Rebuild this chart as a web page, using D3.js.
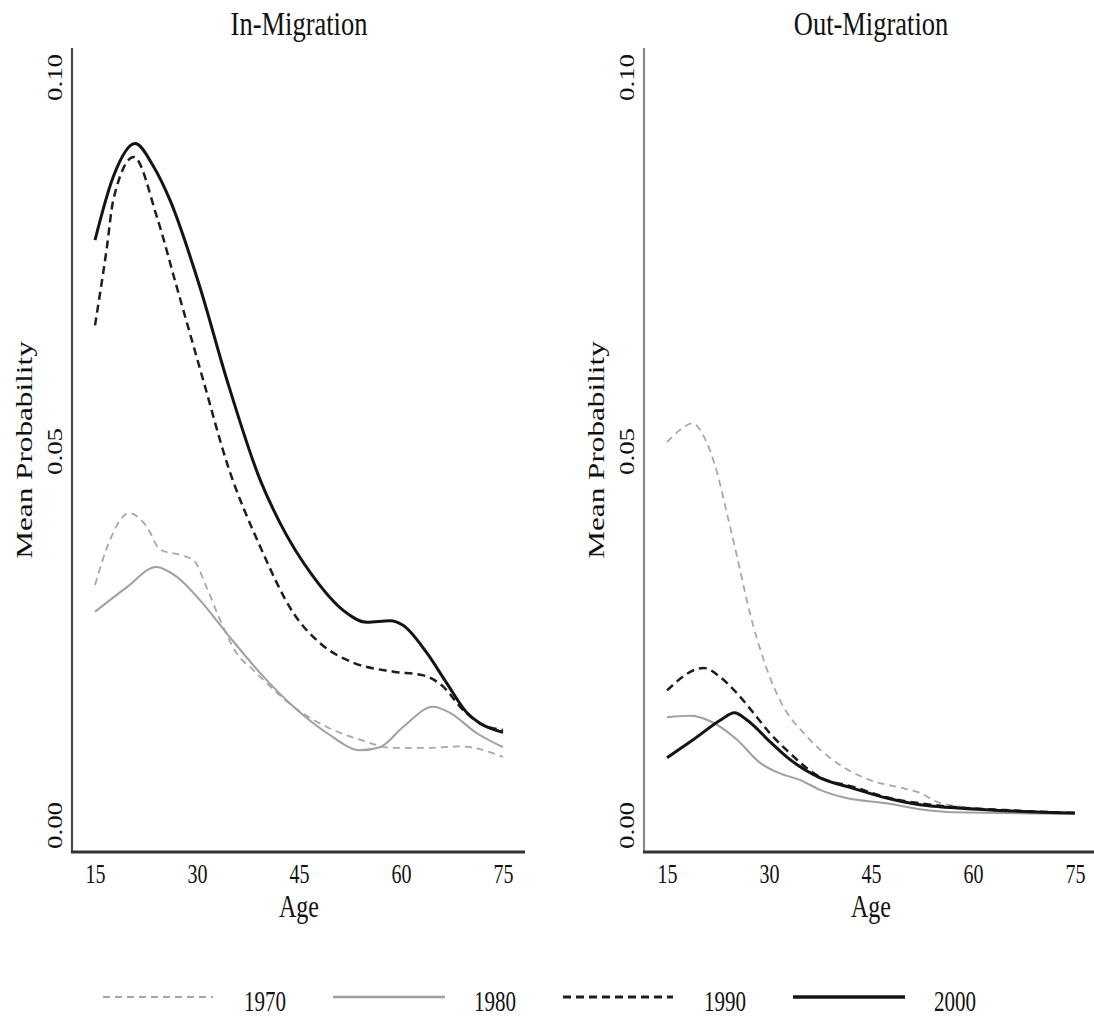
<!DOCTYPE html>
<html>
<head>
<meta charset="utf-8">
<script src="https://cdn.jsdelivr.net/npm/d3@7"></script>
<style>
  html, body { margin: 0; padding: 0; background: #fff; }
  svg { display: block; font-family: "Liberation Serif", "Times New Roman", serif; }
</style>
</head>
<body>
<svg id="chart" width="1094" height="1019"></svg>
<script>
// ---------- data ----------
const years = ["1970", "1980", "1990", "2000"];
const xTicks = [15, 30, 45, 60, 75];
const yTicks = [0.00, 0.05, 0.10];
const panelTitles = ["In-Migration", "Out-Migration"];

// [age, mean probability]
const in1970 = [[15,0.0321],[17.2,0.0381],[20,0.0417],[22.6,0.0399],[24.6,0.0368],[27.5,0.0361],[29.5,0.0354],[31.4,0.0318],[33.4,0.0274],[35.8,0.0230],[38.3,0.0207],[44.2,0.0158],[49.1,0.0131],[54,0.0114],[58.9,0.0103],[63.8,0.0103],[68.7,0.0105],[75,0.0091]];
const in1980 = [[15,0.0285],[19.7,0.0318],[24,0.0345],[27,0.0332],[30.4,0.0301],[34.4,0.0256],[39.3,0.0203],[44.2,0.0158],[49.1,0.0123],[54,0.0100],[56.9,0.0104],[60.3,0.0131],[64.7,0.0158],[67.2,0.0150],[71.1,0.0123],[75,0.0104]];
const in1990 = [[15,0.0668],[16.7,0.0769],[17.7,0.0836],[20.7,0.0893],[24.1,0.0813],[27,0.0720],[31,0.0592],[34.4,0.0484],[39.3,0.0372],[44.2,0.0283],[48.1,0.0243],[53,0.0217],[58.9,0.0205],[63.3,0.0200],[66.2,0.0185],[69.1,0.0154],[71.6,0.0136],[75,0.0127]];
const in2000 = [[15,0.0782],[17.7,0.0867],[20.9,0.0911],[23.5,0.0882],[26,0.0836],[30.4,0.0720],[34.4,0.0595],[39.3,0.0461],[42.2,0.0404],[47.1,0.0332],[51.5,0.0287],[55,0.0271],[58.4,0.0273],[60.3,0.0267],[63.8,0.0230],[66.7,0.0190],[69.7,0.0150],[71.6,0.0136],[75,0.0124]];

const out1970 = [[15,0.0512],[16.9,0.0528],[18.7,0.0537],[20.9,0.0510],[22.4,0.0470],[23.8,0.0417],[25.3,0.0359],[27.2,0.0283],[29.2,0.0221],[31.6,0.0167],[35.6,0.0118],[40,0.0083],[44.9,0.0060],[49.8,0.0049],[52.2,0.0043],[54.7,0.0031],[59.6,0.0023],[66.9,0.0017],[75,0.0016]];
const out1980 = [[15,0.0144],[18.4,0.0146],[21.3,0.0139],[25.3,0.0114],[28.7,0.0083],[31.6,0.0069],[34.6,0.0060],[37.5,0.0047],[41.4,0.0036],[47.3,0.0029],[52.2,0.0021],[57.2,0.0017],[75,0.0015]];
const out1990 = [[15,0.0180],[20.4,0.0210],[22.8,0.0198],[25.3,0.0176],[27.7,0.0150],[30.1,0.0123],[32.6,0.0100],[37.5,0.0064],[42.4,0.0051],[47.3,0.0037],[52.2,0.0029],[57.2,0.0024],[64.6,0.0020],[75,0.0016]];
const out2000 = [[15,0.0090],[19,0.0115],[23,0.0141],[24.9,0.0150],[26.8,0.0140],[30.3,0.0110],[32.6,0.0091],[37.5,0.0063],[42.4,0.0049],[47.3,0.0036],[52.2,0.0027],[57.2,0.0023],[75,0.0016]];

const panelSeries = [[in1970, in1980, in1990, in2000], [out1970, out1980, out1990, out2000]];

// ---------- styles ----------
const seriesStyle = [
  { stroke: "#a8a8a8", width: 1.8, dash: "7,5" },
  { stroke: "#a0a0a0", width: 2.0, dash: null },
  { stroke: "#1e1e1e", width: 2.5, dash: "8,5" },
  { stroke: "#141414", width: 3.0, dash: null }
];
const STRETCH = 1.35;

const svg = d3.select("#chart");
svg.append("rect").attr("width", 1094).attr("height", 1019).attr("fill", "#fff");

const panels = [
  { axisX: 72, xr: [95, 503], axisEnd: 525, yAxisColor: "#4a4a4a" },
  { axisX: 644, xr: [667, 1075], axisEnd: 1097, yAxisColor: "#8a8a8a" }
];
const yRange = [825, 77];
const axisTop = 48, axisBottom = 852;

panels.forEach((p, i) => {
  const x = d3.scaleLinear().domain([15, 75]).range(p.xr);
  const y = d3.scaleLinear().domain([0, 0.1]).range(yRange);
  const g = svg.append("g");

  // axis lines
  g.append("line").attr("x1", p.axisX).attr("x2", p.axisX)
    .attr("y1", axisTop).attr("y2", axisBottom + 1)
    .attr("stroke", p.yAxisColor).attr("stroke-width", 2.2);
  g.append("line").attr("x1", p.axisX - 1).attr("x2", p.axisEnd)
    .attr("y1", axisBottom).attr("y2", axisBottom)
    .attr("stroke", "#333").attr("stroke-width", 2.8);

  // x axis tick labels
  const xa = g.append("g").attr("transform", `translate(0,${axisBottom})`)
    .call(d3.axisBottom(x).tickValues(xTicks).tickSize(0).tickFormat(d3.format("d")));
  xa.select(".domain").remove();
  xa.selectAll("text")
    .attr("y", 0).attr("dy", 0)
    .attr("transform", `translate(0,31) scale(1,${STRETCH})`)
    .attr("font-size", 20).attr("font-family", "Liberation Serif").attr("fill", "#111");

  // y axis tick labels (rotated)
  const ya = g.append("g").attr("transform", `translate(${p.axisX},0)`)
    .call(d3.axisLeft(y).tickValues(yTicks).tickSize(0).tickFormat(d3.format(".2f")));
  ya.select(".domain").remove();
  ya.selectAll("text")
    .attr("x", 0).attr("dy", 0).attr("text-anchor", "middle")
    .attr("transform", `translate(-10,0) rotate(-90) scale(${STRETCH},1)`)
    .attr("font-size", 20).attr("font-family", "Liberation Serif").attr("fill", "#111");

  // title
  const cx = x(45);
  g.append("text").attr("transform", `translate(${cx},35) scale(1,1.25)`)
    .attr("text-anchor", "middle").attr("font-size", 26.5).attr("fill", "#111")
    .text(panelTitles[i]);

  // x title
  g.append("text").attr("transform", `translate(${cx},917) scale(1,1.28)`)
    .attr("text-anchor", "middle").attr("font-size", 24).attr("fill", "#111")
    .text("Age");

  // y title
  g.append("text").attr("transform", `translate(${p.axisX - 40},450) rotate(-90) scale(1.3,1)`)
    .attr("text-anchor", "middle").attr("font-size", 24).attr("fill", "#111")
    .text("Mean Probability");

  // lines
  const line = d3.line().x(d => x(d[0])).y(d => y(d[1])).curve(d3.curveMonotoneX);
  panelSeries[i].forEach((s, k) => {
    const st = seriesStyle[k];
    g.append("path").datum(s).attr("d", line)
      .attr("fill", "none").attr("stroke", st.stroke)
      .attr("stroke-width", st.width)
      .attr("stroke-dasharray", st.dash)
      .attr("stroke-linejoin", "round");
  });
});

// ---------- legend ----------
const legendLineX = [[103, 213], [333, 445], [563, 673], [793, 905]];
const legendLabelX = [265, 495, 725, 955];
const lg = svg.append("g");
years.forEach((yr, k) => {
  const st = seriesStyle[k];
  lg.append("line")
    .attr("x1", legendLineX[k][0]).attr("x2", legendLineX[k][1])
    .attr("y1", 997).attr("y2", 997)
    .attr("stroke", st.stroke).attr("stroke-width", st.width + 0.3)
    .attr("stroke-dasharray", st.dash);
  lg.append("text").attr("transform", `translate(${legendLabelX[k]},1011) scale(1,1.4)`)
    .attr("text-anchor", "middle").attr("font-size", 21).attr("fill", "#111")
    .text(yr);
});
</script>
</body>
</html>
